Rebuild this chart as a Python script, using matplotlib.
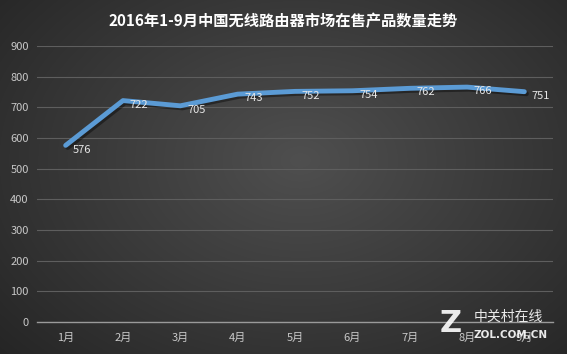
import numpy as np
import matplotlib.pyplot as plt
import matplotlib.patheffects as pe

plt.rcParams['font.family'] = ['Noto Sans CJK SC', 'DejaVu Sans']

# data
months = ['1月', '2月', '3月', '4月', '5月', '6月', '7月', '8月', '9月']
counts = [576, 722, 705, 743, 752, 754, 762, 766, 751]
yticks = [0, 100, 200, 300, 400, 500, 600, 700, 800, 900]

fig = plt.figure(figsize=(5.67, 3.54), dpi=100)

# radial dark background
bg = fig.add_axes([0, 0, 1, 1])
yy, xx = np.mgrid[0:354, 0:567]
r = np.sqrt(((xx - 300) / 420.0) ** 2 + ((yy - 160) / 300.0) ** 2)
shade = np.clip(0.31 - 0.17 * r, 0.12, 0.32)
bg.imshow(np.dstack([shade, shade, shade]), aspect='auto', extent=[0, 1, 0, 1])
bg.axis('off')

ax = fig.add_axes([37 / 567, 32 / 354, 516 / 567, 276 / 354])
ax.patch.set_alpha(0)
x = np.arange(len(months))
ax.plot(x, counts, color='#5b9bd5', lw=3.5, solid_capstyle='round', solid_joinstyle='round',
        path_effects=[pe.SimpleLineShadow(offset=(1.5, -1.5), shadow_color='black', alpha=0.4), pe.Normal()],
        zorder=3)
for xi, v in zip(x, counts):
    ax.annotate(str(v), (xi, v), xytext=(5, -3), textcoords='offset points',
                ha='left', va='center', color='#e8e8e8', fontsize=8, zorder=4)

ax.set_xlim(-0.5, len(months) - 0.5)
ax.set_ylim(0, 900)
ax.set_yticks(yticks)
ax.set_xticks(x)
ax.set_xticklabels(months)
ax.grid(axis='y', color='#5e5e5e', lw=0.8)
ax.set_axisbelow(True)
for s in ['top', 'right', 'left']:
    ax.spines[s].set_visible(False)
ax.spines['bottom'].set_color('#9a9a9a')
ax.spines['bottom'].set_linewidth(1.0)
ax.tick_params(length=0, colors='#c8c8c8', labelsize=8, pad=8)
ax.tick_params(axis='y', pad=6)

fig.text(0.5, 0.94, '2016年1-9月中国无线路由器市场在售产品数量走势', ha='center', va='center',
         color='white', fontsize=11, fontweight='bold')

# watermark
fig.text(0.795, 0.085, 'Z', ha='center', va='center', color='white', fontsize=22,
         fontweight='bold', alpha=0.9, family=['DejaVu Sans'])
fig.text(0.835, 0.105, '中关村在线', ha='left', va='center', color='white', fontsize=10, alpha=0.9)
fig.text(0.835, 0.055, 'ZOL.COM.CN', ha='left', va='center', color='white', fontsize=7.5, alpha=0.9,
         fontweight='bold', family=['DejaVu Sans'])

fig.savefig('out.png', dpi=100)
